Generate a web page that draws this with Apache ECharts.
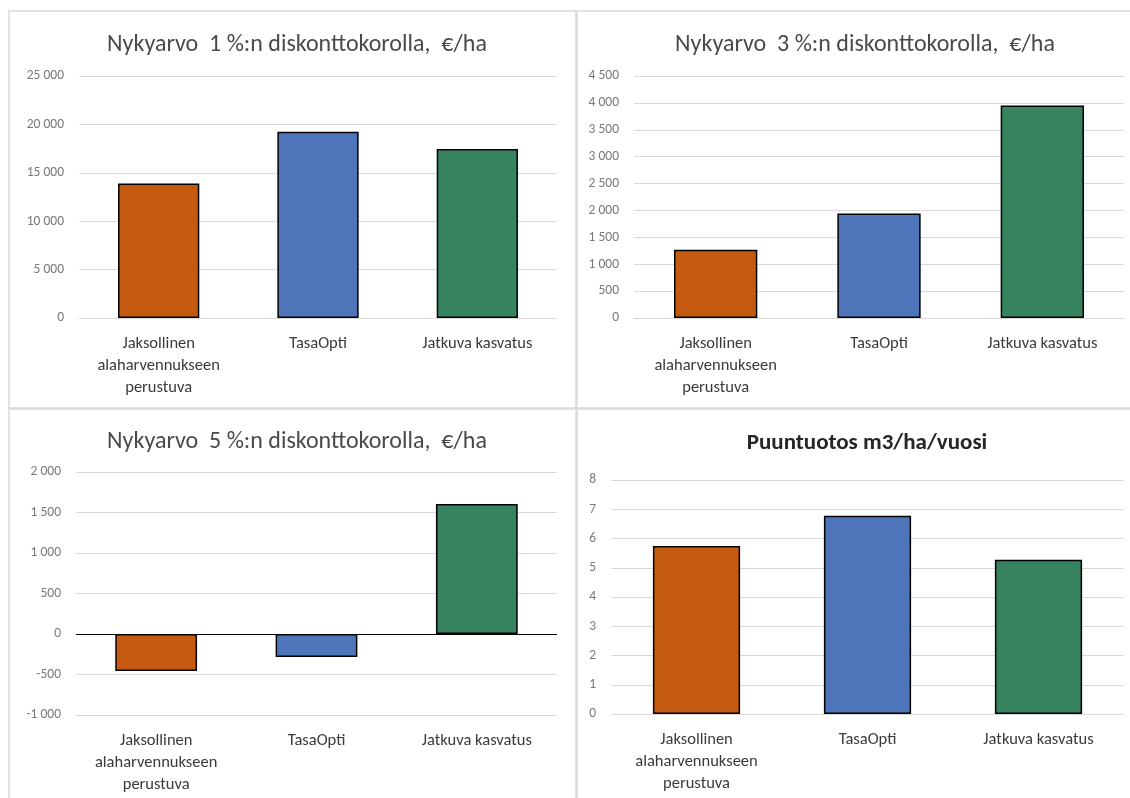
<!DOCTYPE html>
<html>
<head>
<meta charset="utf-8">
<script src="https://cdn.jsdelivr.net/npm/echarts@6/dist/echarts.min.js"></script>
<style>
  html, body { margin: 0; padding: 0; background: #fff; }
  #chart { width: 1130px; height: 798px; }
</style>
</head>
<body>
<div id="chart"></div>
<script>
// Categories shared by all four panels
const categories = ['Jaksollinen\nalaharvennukseen\nperustuva', 'TasaOpti', 'Jatkuva kasvatus'];

// Net present value (€/ha) at 1 %, 3 % and 5 % discount rates
const npv1 = [13900, 19250, 17470];
const npv3 = [1270, 1945, 3950];
const npv5 = [-457, -283, 1604];
// Wood production m3/ha/year
const growth = [5.74, 6.78, 5.27];

const titles = [
  'Nykyarvo  1 %:n diskonttokorolla,  €/ha',
  'Nykyarvo  3 %:n diskonttokorolla,  €/ha',
  'Nykyarvo  5 %:n diskonttokorolla,  €/ha',
  'Puuntuotos m3/ha/vuosi'
];

// Axis ranges: [min, max, interval]
const axisRanges = [
  [0, 25000, 5000],
  [0, 4500, 500],
  [-1000, 2000, 500],
  [0, 8, 1]
];

const barColors = ['#C55A11', '#4E74B9', '#37835F'];

const FONT = 'Carlito, Calibri, Lato, sans-serif';

// Plot areas and panel frames
const grids = [
  { left: 79, top: 76, width: 478, height: 242 },
  { left: 634, top: 76, width: 490, height: 242 },
  { left: 76, top: 472, width: 481, height: 243 },
  { left: 611, top: 480, width: 513, height: 234 }
];
const panels = [
  { x: 9, y: 11, width: 567, height: 397 },
  { x: 577, y: 11, width: 580, height: 397 },
  { x: 9, y: 409, width: 567, height: 400 },
  { x: 577, y: 409, width: 580, height: 400 }
];
const titleCenters = [[292, 28], [860, 28], [292, 425], [862, 427]];

function fmt(v) {
  const s = String(Math.abs(v)).replace(/\B(?=(\d{3})+(?!\d))/g, ' ');
  return (v < 0 ? '-' : '') + s;
}

const seriesData = [npv1, npv3, npv5, growth];

const option = {
  backgroundColor: '#fff',
  animation: false,
  graphic: panels.map(p => ({
    type: 'rect',
    shape: { x: p.x, y: p.y, width: p.width, height: p.height },
    style: { fill: 'none', stroke: '#d9d9d9', lineWidth: 1.5 },
    z: -1
  })),
  title: titles.map((t, i) => ({
    text: t,
    left: titleCenters[i][0],
    top: titleCenters[i][1],
    textAlign: 'center',
    textStyle: {
      fontFamily: FONT,
      fontSize: i === 3 ? 23 : 24,
      fontWeight: i === 3 ? 'bold' : 'normal',
      color: i === 3 ? '#262626' : '#4a4a4a'
    }
  })),
  grid: grids.map(g => Object.assign({ containLabel: false }, g)),
  xAxis: grids.map((g, i) => ({
    type: 'category',
    gridIndex: i,
    data: categories,
    axisLine: { show: false, onZero: false },
    axisTick: { show: false },
    axisLabel: {
      fontFamily: FONT,
      fontSize: 16.5,
      lineHeight: 22,
      color: '#3a3a3a',
      margin: 15,
      interval: 0
    }
  })),
  yAxis: axisRanges.map((r, i) => ({
    type: 'value',
    gridIndex: i,
    min: r[0],
    max: r[1],
    interval: r[2],
    axisLine: { show: false },
    axisTick: { show: false },
    splitLine: { lineStyle: { color: '#d9d9d9', width: 1 } },
    axisLabel: {
      fontFamily: FONT,
      fontSize: 13.5,
      color: '#7a7a7a',
      margin: 15,
      formatter: fmt
    }
  })),
  series: seriesData.map((d, i) => {
    const s = {
      type: 'bar',
      xAxisIndex: i,
      yAxisIndex: i,
      barWidth: '51%',
      data: d.map((v, k) => ({
        value: v,
        itemStyle: { color: barColors[k], borderColor: '#000', borderWidth: 1.5 }
      }))
    };
    if (i === 2) {
      s.markLine = {
        silent: true,
        symbol: 'none',
        label: { show: false },
        lineStyle: { color: '#000', width: 1, type: 'solid' },
        data: [{ yAxis: 0 }]
      };
    }
    return s;
  })
};

const chart = echarts.init(document.getElementById('chart'), null, { renderer: 'canvas' });
chart.setOption(option);
</script>
</body>
</html>
